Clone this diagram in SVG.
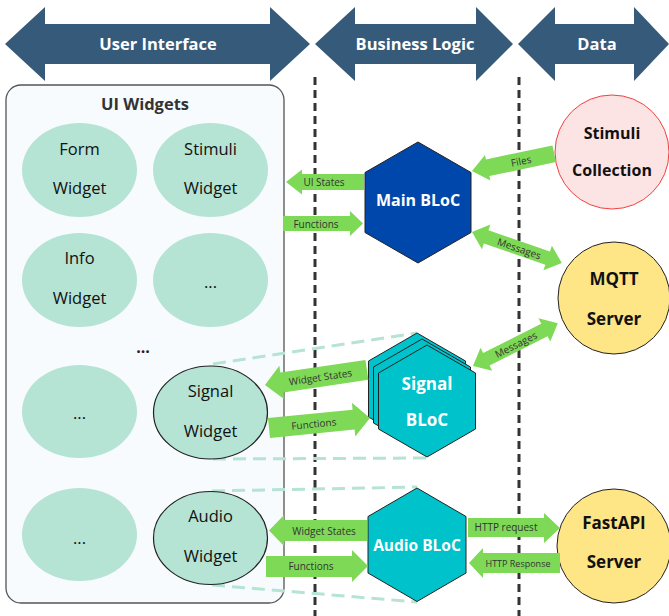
<svg xmlns="http://www.w3.org/2000/svg" width="669" height="616" viewBox="0 0 669 616">
<style>
.hdr{fill:#365a7a}
.hdrt{font-family:"Open Sans","Liberation Sans",sans-serif;font-weight:bold;font-size:16.5px;fill:#fff;text-anchor:middle;dominant-baseline:central}
.vline{stroke:#333;stroke-width:3;stroke-dasharray:8 5;fill:none}
.link{stroke:#b5e3d4;stroke-width:3;stroke-dasharray:13 7;fill:none}
.wid{fill:#b5e3d4}
.wids{fill:#b5e3d4;stroke:#222;stroke-width:1.2}
.wt{font-family:"Open Sans","Liberation Sans",sans-serif;font-size:16.5px;fill:#111;text-anchor:middle;dominant-baseline:central}
.arr{fill:#7ed957}
.at{font-family:"Open Sans","Liberation Sans",sans-serif;font-size:10px;fill:#333;text-anchor:middle;dominant-baseline:central}
.bt{font-family:"Open Sans","Liberation Sans",sans-serif;font-weight:bold;font-size:16px;fill:#fff;text-anchor:middle;dominant-baseline:central}
.ct{font-family:"Open Sans","Liberation Sans",sans-serif;font-weight:bold;font-size:16px;fill:#111;text-anchor:middle;dominant-baseline:central}
.teal{fill:#00c2cb;stroke:#222;stroke-width:1}
</style>
<g id="headers">
<polygon class="hdr" points="5,44 45,7 45,24 270,24 270,7 310,44 270,81 270,64 45,64 45,81"/>
<text class="hdrt" x="158" y="43">User Interface</text>
<polygon class="hdr" points="315,44 355,7 355,24 476,24 476,7 513,44 476,81 476,64 355,64 355,81"/>
<text class="hdrt" x="415" y="43">Business Logic</text>
<polygon class="hdr" points="518,44 555,7 555,24 634,24 634,7 669,44 634,81 634,64 555,64 555,81"/>
<text class="hdrt" x="597" y="43">Data</text>
</g>
<g id="layer-lines">
<line class="vline" x1="315" y1="77" x2="315" y2="616"/>
<line class="vline" x1="519" y1="77" x2="519" y2="616"/>
</g>
<g id="ui-widgets">
<rect x="6" y="85" width="278" height="518" rx="15" fill="#f7fbfd" stroke="#555" stroke-width="1.3"/>
<text x="145" y="103" font-family="'Open Sans','Liberation Sans',sans-serif" font-weight="bold" font-size="16.5" fill="#333" text-anchor="middle" dominant-baseline="central">UI Widgets</text>
<text x="143" y="347" font-family="'Open Sans','Liberation Sans',sans-serif" font-weight="bold" font-size="16" fill="#222" text-anchor="middle" dominant-baseline="central">...</text>
</g>
<g id="links">
<line class="link" x1="213" y1="364" x2="417" y2="333"/>
<line class="link" x1="213" y1="459" x2="427" y2="458"/>
<line class="link" x1="212" y1="491" x2="417" y2="487"/>
<line class="link" x1="212" y1="585" x2="417" y2="602"/>
</g>
<g id="form-widget">
<ellipse class="wid" cx="79.5" cy="170" rx="57.5" ry="47"/>
<text class="wt" x="79.5" y="148">Form</text>
<text class="wt" x="79.5" y="187">Widget</text>
</g>
<g id="stimuli-widget">
<ellipse class="wid" cx="210.5" cy="170" rx="57.5" ry="47"/>
<text class="wt" x="210.5" y="148">Stimuli</text>
<text class="wt" x="210.5" y="187">Widget</text>
</g>
<g id="info-widget">
<ellipse class="wid" cx="79.5" cy="280" rx="57.5" ry="47"/>
<text class="wt" x="79.5" y="257">Info</text>
<text class="wt" x="79.5" y="297">Widget</text>
</g>
<g id="more-widget-1">
<ellipse class="wid" cx="210.5" cy="280" rx="57.5" ry="47"/>
<text class="wt" x="210.5" y="281">...</text>
</g>
<g id="more-widget-2">
<ellipse class="wid" cx="79.5" cy="411.5" rx="57.5" ry="46.5"/>
<text class="wt" x="79.5" y="412">...</text>
</g>
<g id="signal-widget">
<ellipse class="wids" cx="210.5" cy="412.5" rx="57" ry="46.5"/>
<text class="wt" x="210.5" y="390">Signal</text>
<text class="wt" x="210.5" y="430">Widget</text>
</g>
<g id="more-widget-3">
<ellipse class="wid" cx="79.5" cy="534.5" rx="57.5" ry="46.5"/>
<text class="wt" x="79.5" y="537">...</text>
</g>
<g id="audio-widget">
<ellipse class="wids" cx="210.5" cy="538" rx="57" ry="46.5"/>
<text class="wt" x="210.5" y="515">Audio</text>
<text class="wt" x="210.5" y="555">Widget</text>
</g>
<g id="main-bloc">
<polygon points="418,142 471,172.5 471,232.5 418,263 365,232.5 365,172.5" fill="#0047ab" stroke="#222" stroke-width="1"/>
<text class="bt" x="418" y="200">Main BLoC</text>
</g>
<g id="signal-bloc">
<polygon class="teal" points="417,333 465.5,361 465.5,417 417,445 368.5,417 368.5,361"/>
<polygon class="teal" points="422,339 470.5,367 470.5,423 422,451 373.5,423 373.5,367"/>
<polygon class="teal" points="427,345 475.5,373 475.5,429 427,457 378.5,429 378.5,373"/>
<text class="bt" x="427" y="383" style="font-size:17px">Signal</text>
<text class="bt" x="427" y="419" style="font-size:17px">BLoC</text>
</g>
<g id="audio-bloc">
<polygon class="teal" points="417,488 466,516.5 466,573 417,601.5 368,573 368,516.5"/>
<text class="bt" x="417" y="545" style="font-size:15.5px">Audio BLoC</text>
</g>
<g id="stimuli-collection">
<circle cx="612" cy="152" r="57" fill="#fde4e4" stroke="#f04040" stroke-width="1"/>
<text class="ct" x="612" y="133" font-size="15">Stimuli</text>
<text class="ct" x="612" y="170" font-size="15">Collection</text>
</g>
<g id="mqtt-server">
<circle cx="614" cy="298" r="56" fill="#fee585" stroke="#222" stroke-width="1"/>
<text class="ct" x="614" y="278" style="font-size:17px">MQTT</text>
<text class="ct" x="614" y="318" style="font-size:17px">Server</text>
</g>
<g id="fastapi-server">
<circle cx="614" cy="546" r="57" fill="#fee585" stroke="#222" stroke-width="1"/>
<text class="ct" x="614" y="522" style="font-size:17px">FastAPI</text>
<text class="ct" x="614" y="561" style="font-size:17px">Server</text>
</g>
<g id="connectors">
<polygon class="arr" points="286,182 302,169.5 302,174 364,174 364,190 302,190 302,194.5"/>
<text class="at" x="324" y="182">UI States</text>
<polygon class="arr" points="283,216 350,216 350,211 363,223.5 350,236 350,231 283,231"/>
<text class="at" x="316" y="223.5">Functions</text>
<g transform="translate(472,171) rotate(-11.85)">
<polygon class="arr" points="0,0 16,-13 16,-8.5 84,-8.5 84,8.5 16,8.5 16,13"/>
<text class="at" x="50" y="0">Files</text>
</g>
<g transform="translate(472,232) rotate(19)">
<polygon class="arr" points="0,0 15,-13 15,-7 80,-7 80,-13 95,0 80,13 80,7 15,7 15,13"/>
<text class="at" x="50" y="0">Messages</text>
</g>
<g transform="translate(473,366) rotate(-26.8)">
<polygon class="arr" points="0,0 15,-13 15,-7 80,-7 80,-13 95,0 80,13 80,7 15,7 15,13"/>
<text class="at" x="48" y="0">Messages</text>
</g>
<g transform="translate(265,385) rotate(-8.4)">
<polygon class="arr" points="0,0 17,-17 17,-10 103,-10 103,10 17,10 17,17"/>
<text class="at" x="56" y="0">Widget States</text>
</g>
<g transform="translate(269,428) rotate(-5.65)">
<polygon class="arr" points="0,-10 85,-10 85,-17 101.5,0 85,17 85,10 0,10"/>
<text class="at" x="45" y="0">Functions</text>
</g>
<polygon class="arr" points="269,530.5 284,515 284,520 367,520 367,541 284,541 284,546"/>
<text class="at" x="324" y="530.5">Widget States</text>
<polygon class="arr" points="266,556 352,556 352,550 368,566 352,582 352,577 266,577"/>
<text class="at" x="311" y="566">Functions</text>
<polygon class="arr" points="468,518 544,518 544,513 560,528 544,543 544,537 468,537"/>
<text class="at" x="506" y="527">HTTP request</text>
<polygon class="arr" points="469,563 483,548 483,553 560,553 560,573 483,573 483,578"/>
<text class="at" x="518" y="563" style="font-size:9px">HTTP Response</text>
</g>
</svg>
